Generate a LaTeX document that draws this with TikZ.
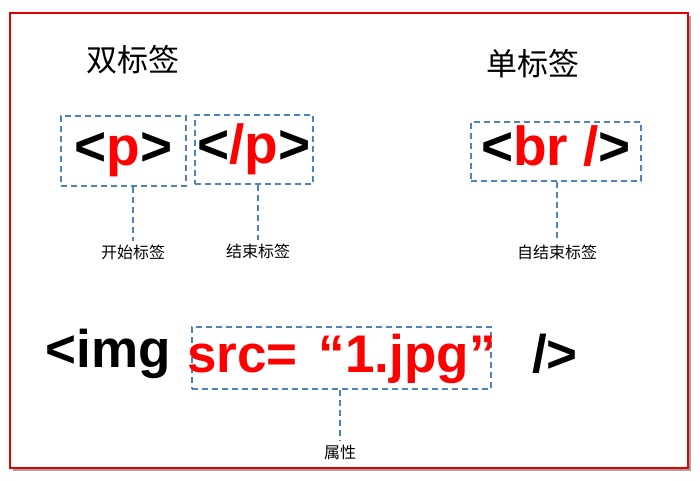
\documentclass[tikz,border=0pt]{standalone}
\usepackage{fontspec}
\setmainfont{Liberation Sans}
\newfontfamily\cjk{Noto Sans CJK SC}
\usetikzlibrary{shadows}
\definecolor{tagred}{RGB}{255,0,0}
\definecolor{boxblue}{RGB}{79,129,189}
\definecolor{framered}{RGB}{225,0,0}
\tikzset{
  tagbox/.style={draw=boxblue, line width=2.5pt, dash pattern=on 6pt off 4pt,
    inner sep=0pt, font=\fontsize{55}{60}\selectfont\bfseries,
    text height=39pt, text depth=11pt},
  tagtext/.style={font=\fontsize{53}{60}\selectfont\bfseries},
  link/.style={draw=boxblue, line width=2.5pt, dash pattern=on 6pt off 4pt},
  note/.style={font=\cjk\fontsize{16}{18}\selectfont, inner sep=3.5pt},
  head/.style={font=\cjk\fontsize{31}{34}\selectfont}
}
\begin{document}
\begin{tikzpicture}[x=1pt,y=-1pt]
\useasboundingbox (0,0) rectangle (700,480);
\draw[draw=framered, line width=2.5pt, fill=white,
  drop shadow={shadow xshift=3pt, shadow yshift=-3pt, fill=black!60, opacity=0.6}] (10,13) rectangle (688,468);
% headings
\node[head] (dbl) at (133,60) {双标签};
\node[head] (sgl) at (533,64) {单标签};
% tag boxes
\node[tagbox, minimum width=125pt, minimum height=70pt] (open) at (123.5,151) {<\textcolor{tagred}{p}>};
\node[tagbox, minimum width=118pt, minimum height=69pt] (close) at (254,149.5) {<\textcolor{tagred}{/p}>};
\node[tagbox, minimum width=170pt, minimum height=59pt] (self) at (556,151.5) {<\textcolor{tagred}{br /}>};
% img line
\node[tagtext] (img) at (108,354) {<img};
\node[tagbox, font=\fontsize{53}{60}\selectfont\bfseries, text=tagred,
  minimum width=299pt, minimum height=62pt] (attr) at (341.5,358)
  {\makebox[299pt]{src=\hspace{0.4em}“1.jpg”}};
\node[tagtext] (shut) at (555,354) {/>};
% labels
\node[note] (startlbl) at (133,252) {开始标签};
\node[note] (endlbl) at (258,251) {结束标签};
\node[note] (selflbl) at (557,252) {自结束标签};
\node[note] (attrlbl) at (340,452) {属性};
\draw[link] (open.south -| startlbl) -- (startlbl.north);
\draw[link] (close.south -| endlbl) -- (endlbl.north);
\draw[link] (self.south -| selflbl) -- (selflbl.north);
\draw[link] (attr.south -| attrlbl) -- (attrlbl.north);
\end{tikzpicture}
\end{document}
